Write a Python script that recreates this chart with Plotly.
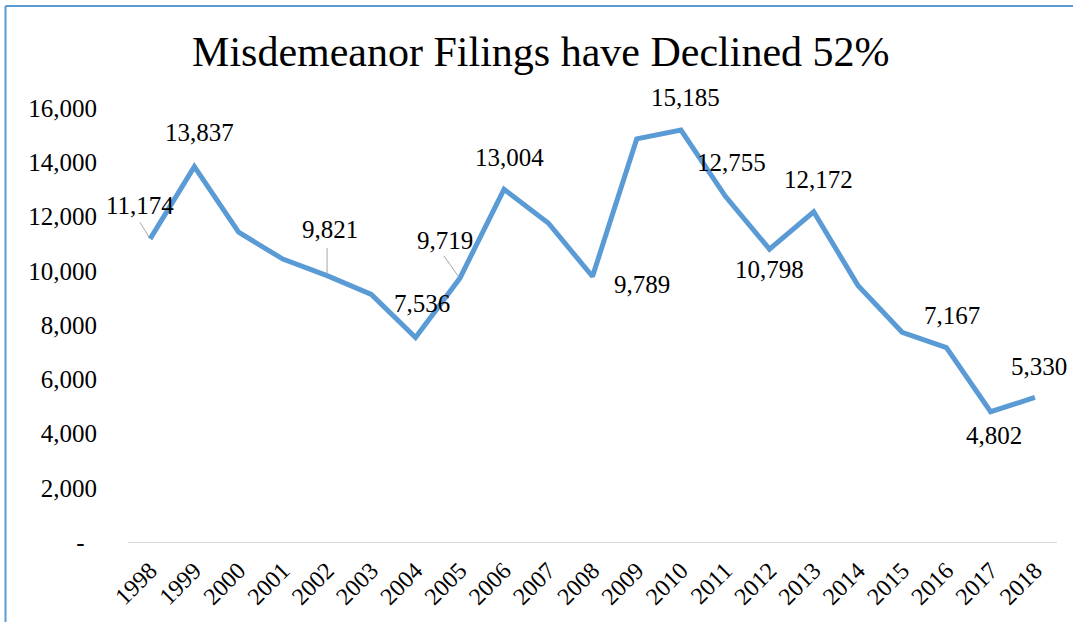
import plotly.graph_objects as go

years = [str(y) for y in range(1998, 2019)]
filings = [11174, 13837, 11420, 10430, 9821, 9130, 7536, 9719, 13004, 11760,
           9789, 14860, 15185, 12755, 10798, 12172, 9460, 7730, 7167, 4802, 5330]
labeled_years = ["1998", "1999", "2002", "2004", "2005", "2006", "2008", "2010",
                 "2011", "2012", "2013", "2016", "2017", "2018"]
ytick_vals = [0, 2000, 4000, 6000, 8000, 10000, 12000, 14000, 16000]
ytick_text = ["-\u00a0\u00a0", "2,000", "4,000", "6,000", "8,000",
              "10,000", "12,000", "14,000", "16,000"]
title_text = "Misdemeanor Filings have Declined 52%"

FONT = "Liberation Serif, Times New Roman, serif"
BLUE = "#5B9BD5"

# label offsets in pixels (x, y) relative to the point; leader line flag
label_pos = {
    "1998": (-10, -33, True), "1999": (5, -34, False), "2002": (3, -46, True),
    "2004": (6, -34, False), "2005": (-15, -38, True), "2006": (5, -32, False),
    "2008": (49, 8, False), "2010": (5, -33, False), "2011": (6, -34, False),
    "2012": (0, 20, False), "2013": (5, -32, False), "2016": (6, -32, False),
    "2017": (3, 24, False), "2018": (4, -31, False),
}
leader_tail = {"1998": (-11, -18), "2002": (0, -29), "2005": (-17, -24)}

fig = go.Figure()
fig.add_trace(go.Scatter(x=years, y=filings, mode="lines",
                         line=dict(color=BLUE, width=5), hoverinfo="x+y"))

annotations = []
value_of = dict(zip(years, filings))
for yr in labeled_years:
    dx, dy, leader = label_pos[yr]
    v = value_of[yr]
    xi = years.index(yr)
    if leader:
        tx, ty = leader_tail[yr]
        annotations.append(dict(x=xi, y=v, xref="x", yref="y", text="",
                                showarrow=True, arrowhead=0, arrowwidth=1,
                                arrowcolor="#A6A6A6", ax=tx, ay=ty, standoff=2))
    annotations.append(dict(x=xi, y=v, xref="x", yref="y", text=f"{v:,}",
                            showarrow=False, xshift=dx, yshift=-dy,
                            font=dict(family=FONT, size=25, color="#000000")))

fig.update_layout(
    width=1073, height=622,
    margin=dict(l=128, r=16, t=108, b=80),
    paper_bgcolor="white", plot_bgcolor="white",
    showlegend=False,
    title=dict(text=title_text, x=0.504, xanchor="center", y=1 - 51 / 622,
               yanchor="middle", yref="container",
               font=dict(family=FONT, size=42, color="#000000")),
    xaxis=dict(type="category", range=[-0.5, 20.5], tickangle=-45,
               showline=True, linecolor="#D9D9D9", linewidth=1,
               showgrid=False, ticks="", ticklabelstandoff=4,
               tickfont=dict(family=FONT, size=24, color="#000000")),
    yaxis=dict(range=[0, 16000], tickvals=ytick_vals, ticktext=ytick_text,
               showgrid=False, zeroline=False, showline=False, ticks="",
               ticklabelstandoff=30,
               tickfont=dict(family=FONT, size=25, color="#000000")),
    annotations=annotations,
    shapes=[
        dict(type="line", xref="paper", yref="paper",
             x0=(5.5 - 128) / 929, x1=(5.5 - 128) / 929,
             y0=1 + (108 - 6) / 434, y1=-0.3,
             line=dict(color=BLUE, width=2)),
        dict(type="line", xref="paper", yref="paper",
             x0=(5.5 - 128) / 929, x1=1.1,
             y0=1 + (108 - 6) / 434, y1=1 + (108 - 6) / 434,
             line=dict(color=BLUE, width=2)),
    ],
)

fig.write_html("out.html", config={"displayModeBar": False},
               post_script="document.body.style.margin='0';document.body.style.overflow='hidden';")
